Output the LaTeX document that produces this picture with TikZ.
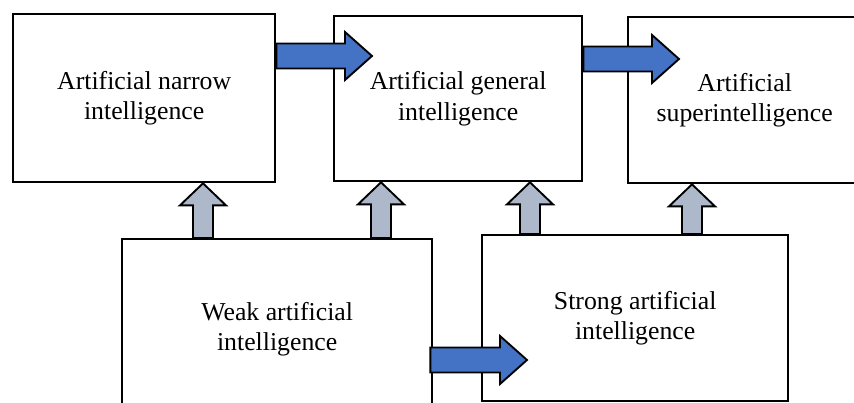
\documentclass[tikz,border=0pt]{standalone}
\usepackage{fontspec}
\setmainfont{Liberation Serif}
\usetikzlibrary{calc}

\definecolor{arrblue}{RGB}{68,114,196}
\definecolor{arrgray}{RGB}{173,185,202}

\tikzset{
    box/.style={draw, rectangle, line width=2pt, fill=white, align=center, anchor=north west, font=\fontsize{22}{26}\selectfont},
    bluearr/.style={draw, line width=1.6pt, fill=arrblue},
    grayarr/.style={draw, line width=1.6pt, fill=arrgray},
}

% block arrow to the right: style, start, tip
\newcommand\blockright[3]{\draw[#1] let \p1=(#2), \p2=(#3) in
    (\x1,{\y1+0.375cm}) -- ({\x2-0.81cm},{\y1+0.375cm}) -- ({\x2-0.81cm},{\y1+0.72cm}) -- (\x2,\y1)
    -- ({\x2-0.81cm},{\y1-0.72cm}) -- ({\x2-0.81cm},{\y1-0.375cm}) -- (\x1,{\y1-0.375cm}) -- cycle;}
% block arrow upwards: style, base, tip
\newcommand\blockup[3]{\draw[#1] let \p1=(#2), \p2=(#3) in
    ({\x1-0.3cm},\y1) -- ({\x1-0.3cm},{\y2-0.66cm}) -- ({\x1-0.69cm},{\y2-0.66cm}) -- (\x1,\y2)
    -- ({\x1+0.69cm},{\y2-0.66cm}) -- ({\x1+0.3cm},{\y2-0.66cm}) -- ({\x1+0.3cm},\y1) -- cycle;}

\begin{document}
\begin{tikzpicture}[x=0.03cm, y=-0.03cm]
    \useasboundingbox (0,0) rectangle (854,403);

    %% top row
    \draw
    (12,13)node[box, minimum width=7.86cm, minimum height=5.04cm](narrow){Artificial narrow\\intelligence}
    (333,15)node[box, minimum width=7.44cm, minimum height=4.95cm](general){Artificial general\\intelligence}
    (627,16)node[box, minimum width=6.99cm, minimum height=4.98cm](super){Artificial\\superintelligence}
    ;

    %% bottom row
    \draw
    (121,238)node[box, minimum width=9.3cm, minimum height=5.4cm](weak){Weak artificial\\intelligence}
    (481,234)node[box, minimum width=9.18cm, minimum height=4.98cm](strong){Strong artificial\\intelligence}
    ;

    %% arrows
    \blockright{bluearr}{$(narrow.north east)+(0,43)$}{$(general.north west)+(39,0)$}
    \blockright{bluearr}{$(general.north east)+(0,44)$}{$(super.north west)+(52,0)$}
    \blockright{bluearr}{$(weak.north east)+(-3,122)$}{$(strong.north west)+(46,0)$}

    \blockup{grayarr}{$(weak.north west)+(82,0)$}{narrow.south}
    \blockup{grayarr}{$(weak.north west)+(260,0)$}{general.south}
    \blockup{grayarr}{$(strong.north west)+(49,0)$}{general.south}
    \blockup{grayarr}{$(strong.north west)+(211,0)$}{super.south}
\end{tikzpicture}
\end{document}
